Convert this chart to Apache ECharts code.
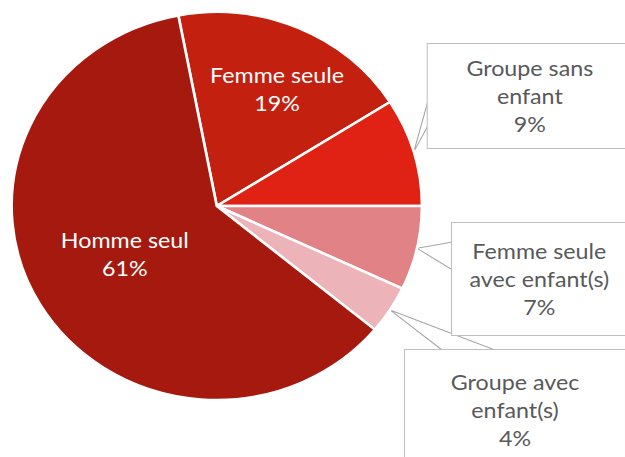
<!DOCTYPE html>
<html>
<head>
<meta charset="utf-8">
<script src="https://cdn.jsdelivr.net/npm/echarts@6/dist/echarts.min.js"></script>
<style>
  html, body { margin: 0; padding: 0; background: #fff; overflow: hidden; }
  /* the source picture is a little wider than tall, so stretch the chart */
  #chart { width: 591px; height: 457px; transform: scaleX(1.0575); transform-origin: 0 0; }
</style>
</head>
<body>
<div id="chart"></div>
<script>
// data, clockwise from the top
const categories = ['Femme seule', 'Groupe sans enfant', 'Femme seule avec enfant(s)', 'Groupe avec enfant(s)', 'Homme seul'];
const values = [19, 9, 7, 4, 61];
// how each name wraps in its label
const labelLines = [
  ['Femme seule'],
  ['Groupe sans', 'enfant'],
  ['Femme seule', 'avec enfant(s)'],
  ['Groupe avec', 'enfant(s)'],
  ['Homme seul']
];

const colors = ['#C3200F', '#DF2214', '#E08286', '#ECB4B8', '#A5190F'];
// label centre x, y, callout box width (0 = inside label), padding top, padding bottom
const labelPos = [
  [262, 89, 0, 0, 0],
  [501, 96, 193, 14, 6],
  [510, 279, 165, 14, 14],
  [487, 410, 208, 18, 18],
  [118, 254, 0, 0, 0]
];
// where each callout pointer meets its box (two base points)
const pointerBase = [
  null,
  [[405, 100], [405, 125]],
  [[428, 242], [428, 270]],
  [[418, 350], [468, 350]],
  null
];

const chart = echarts.init(document.getElementById('chart'), null, { renderer: 'svg' });

const data = categories.map((name, i) => {
  const boxed = labelPos[i][2] > 0;
  return {
    name: name,
    value: values[i],
    itemStyle: { color: colors[i] },
    label: boxed ? {
      color: '#595959',
      backgroundColor: '#fff',
      borderColor: '#BFBFBF',
      borderWidth: 1,
      width: labelPos[i][2],
      padding: [labelPos[i][3], 0, labelPos[i][4], 0],
      lineHeight: 28
    } : {
      color: '#fff',
      lineHeight: 28
    },
    labelLine: { show: boxed }
  };
});

chart.setOption({
  animation: false,
  series: [{
    type: 'pie',
    center: [205, 206],
    radius: [0, 194],
    startAngle: 100.8,
    clockwise: true,
    avoidLabelOverlap: false,
    itemStyle: { borderColor: '#fff', borderWidth: 2.5 },
    label: {
      show: true,
      position: 'outside',
      fontFamily: 'Lato',
      fontSize: 22,
      align: 'center',
      formatter: p => labelLines[p.dataIndex].join('\n') + '\n' + Math.round(p.percent) + '%'
    },
    labelLine: {
      show: true,
      length: 10,
      length2: 10,
      lineStyle: { color: '#A6A6A6', width: 1 }
    },
    labelLayout: p => {
      const i = p.dataIndex;
      const out = {
        x: labelPos[i][0],
        y: labelPos[i][1],
        align: 'center',
        verticalAlign: 'middle'
      };
      if (pointerBase[i] && p.labelLinePoints) {
        const tip = p.labelLinePoints[0];
        out.labelLinePoints = [pointerBase[i][0], tip, pointerBase[i][1]];
      }
      return out;
    },
    data: data
  }]
});
</script>
</body>
</html>
